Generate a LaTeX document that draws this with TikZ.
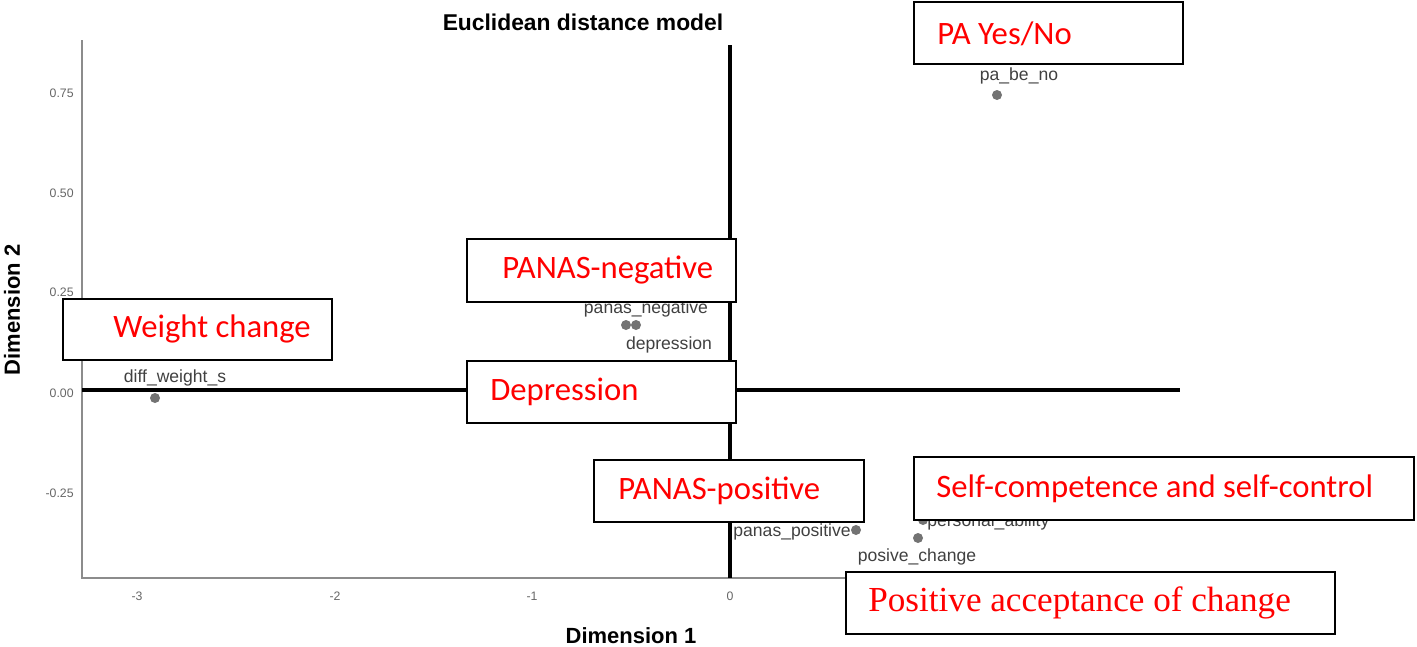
\documentclass[tikz,border=0pt]{standalone}
\usepackage{fontspec}
\setsansfont{Liberation Sans}
\newfontfamily\calfont{Carlito}
\newfontfamily\serfont{Liberation Serif}
\usepackage{tikz}
\usetikzlibrary{positioning}

\begin{document}
\begin{tikzpicture}[x=0.02cm, y=-0.02cm]
\tikzset{tagbox/.style = {draw, line width=1pt, fill=white, anchor=north west,
            minimum width=5.38cm, minimum height=1.24cm, inner sep=0pt},
         tagword/.style = {anchor=west, text=red, inner sep=0pt,
            font=\calfont\fontsize{18.6}{20}\selectfont},
         datapt/.style = {circle, fill=black!55, inner sep=0pt, minimum size=0.2cm},
         varname/.style = {text=black!75, inner sep=0pt, font=\sffamily\fontsize{10}{12}\selectfont},
         ticklab/.style = {text=black!60, inner sep=0pt, font=\sffamily\fontsize{7}{8}\selectfont},
         axlab/.style = {inner sep=0pt, font=\sffamily\bfseries\fontsize{12.5}{14}\selectfont}}
\useasboundingbox (0,0) rectangle (1417,646);
            % axes
	\coordinate (ytop) at (82,40);
	\coordinate (orig) at (82,578);
	\coordinate (xend) at (1180,578);
	\coordinate (vtop) at (730,45);
	\coordinate (vbot) at (730,578);
	\coordinate (hleft) at (82,390);
	\coordinate (hright) at (1180,390);
	\draw[black!45, line width=0.8pt] (ytop) -- (orig) -- (xend);
	\draw[line width=2.3pt] (vtop) -- (vbot);
	\draw[line width=2.3pt] (hleft) -- (hright);
	\foreach \v/\y in {0.75/93, 0.50/193, 0.25/292, 0.00/393, -0.25/493}
	    \node[ticklab, anchor=east] (ty\y) at (74,\y) {\v};
	\foreach \v/\x in {-3/137, -2/335, -1/532, 0/730}
	    \node[ticklab] (tx\x) at (\x,596) {\v};
	\node[axlab, font=\sffamily\bfseries\fontsize{13}{15}\selectfont] (title) at (583,22) {Euclidean distance model};
	\node[axlab] (dim1) at (631,636) {Dimension 1};
	\node[axlab, rotate=90] (dim2) at (12,310) {Dimension 2};
            % points
	\node[datapt] (pbn) at (997,95) {};
	\node[datapt] (pneg) at (626,325) {};
	\node[datapt] (dep) at (636,325) {};
	\node[datapt] (dws) at (155,398) {};
	\node[datapt] (ppos) at (856,530) {};
	\node[datapt] (pab) at (923,520) {};
	\node[datapt] (pch) at (918,538) {};
	\node[varname] (pbnl) at (1019,76) {pa\_be\_no};
	\node[varname] (pnegl) at (646,309) {panas\_negative};
	\node[varname] (depl) at (669,345) {depression};
	\node[varname] (dwsl) at (175,378) {diff\_weight\_s};
	\node[varname, anchor=east] (pposl) at (851,532) {panas\_positive};
	\node[varname, anchor=west] (pabl) at (927,522) {personal\_ability};
	\node[varname] (pchl) at (917,557) {posive\_change};
            % boxes
	\node[tagbox] (bpa) at (913,1) {};
	\node[tagword] (wpa) at ([xshift=0.48cm, yshift=-0.02cm]bpa.west) {PA Yes/No};
	\node[tagbox, minimum height=1.22cm] (bweight) at (62,298) {};
	\node[tagword] (wweight) at ([xshift=1.02cm]bweight.west) {Weight change};
	\node[tagbox, minimum height=1.26cm] (bneg) at (466,238) {};
	\node[tagword] (wneg) at ([xshift=0.72cm]bneg.west) {PANAS-negative};
	\node[tagbox] (bdep) at (466,360) {};
	\node[tagword] (wdep) at ([xshift=0.48cm]bdep.west) {Depression};
	\node[tagbox, minimum width=5.4cm] (bpos) at (593,459) {};
	\node[tagword] (wpos) at ([xshift=0.5cm]bpos.west) {PANAS-positive};
	\node[tagbox, minimum width=10cm, minimum height=1.26cm] (bself) at (913,456) {};
	\node[tagword] (wself) at ([xshift=0.46cm]bself.west) {Self-competence and self-control};
	\node[tagbox, minimum width=9.78cm] (bacc) at (845,571) {};
	\node[tagword, font=\serfont\fontsize{20}{22}\selectfont] (wacc) at ([xshift=0.46cm]bacc.west) {Positive acceptance of change};
\end{tikzpicture}
\end{document}
